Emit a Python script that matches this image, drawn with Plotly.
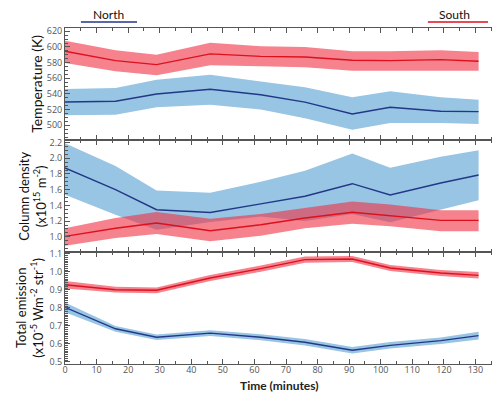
import plotly.graph_objects as go
from plotly.subplots import make_subplots

# ---- data ----
time = [0, 16, 29, 46, 62, 76, 91, 103, 119, 131]

north_temp = [529.7, 530.6, 540.0, 546.0, 539.0, 529.5, 514.4, 523.0, 518.0, 517.4]
north_temp_hi = [546.3, 547.6, 558.2, 564.6, 556.0, 548.5, 535.7, 543.4, 535.7, 532.7]
north_temp_lo = [512.8, 513.5, 523.0, 526.3, 520.0, 509.0, 494.4, 503.0, 503.0, 501.7]
south_temp = [594.5, 582.5, 577.4, 591.2, 588.0, 587.2, 583.0, 582.5, 583.8, 581.7]
south_temp_hi = [608.0, 595.7, 590.0, 605.5, 601.0, 600.0, 594.5, 594.5, 595.7, 593.6]
south_temp_lo = [579.5, 569.0, 563.8, 576.6, 575.5, 574.0, 569.7, 569.7, 570.0, 569.7]

north_dens = [1.876, 1.60, 1.345, 1.31, 1.42, 1.516, 1.676, 1.532, 1.685, 1.787]
north_dens_hi = [2.19, 1.90, 1.59, 1.56, 1.70, 1.84, 2.06, 1.88, 2.02, 2.10]
north_dens_lo = [1.536, 1.28, 1.09, 1.19, 1.26, 1.20, 1.29, 1.185, 1.345, 1.465]
south_dens = [1.006, 1.11, 1.176, 1.078, 1.154, 1.24, 1.312, 1.269, 1.21, 1.21]
south_dens_hi = [1.11, 1.24, 1.316, 1.23, 1.29, 1.367, 1.45, 1.41, 1.337, 1.337]
south_dens_lo = [0.887, 0.985, 1.036, 0.945, 1.014, 1.11, 1.167, 1.134, 1.07, 1.07]

north_emis = [0.803, 0.684, 0.637, 0.660, 0.637, 0.609, 0.565, 0.592, 0.618, 0.646]
north_emis_hi = [0.830, 0.700, 0.652, 0.676, 0.654, 0.627, 0.583, 0.610, 0.636, 0.667]
north_emis_lo = [0.776, 0.668, 0.622, 0.644, 0.620, 0.591, 0.547, 0.574, 0.600, 0.625]
south_emis = [0.929, 0.901, 0.898, 0.966, 1.018, 1.068, 1.072, 1.022, 0.994, 0.981]
south_emis_hi = [0.950, 0.917, 0.914, 0.983, 1.035, 1.085, 1.089, 1.039, 1.011, 0.999]
south_emis_lo = [0.908, 0.885, 0.882, 0.949, 1.001, 1.051, 1.055, 1.005, 0.977, 0.963]

x_ticks = list(range(0, 140, 10))

BLUE_FILL = "rgb(152,197,228)"
BLUE_LINE = "rgb(35,55,135)"
RED_FILL = "rgba(238,47,63,0.6)"
RED_LINE = "rgb(222,16,30)"
AX = "#555555"

fig = make_subplots(rows=3, cols=1, shared_xaxes=True, vertical_spacing=0)

panels = [
    (1, north_temp, north_temp_lo, north_temp_hi, south_temp, south_temp_lo, south_temp_hi),
    (2, north_dens, north_dens_lo, north_dens_hi, south_dens, south_dens_lo, south_dens_hi),
    (3, north_emis, north_emis_lo, north_emis_hi, south_emis, south_emis_lo, south_emis_hi),
]

for row, n, nlo, nhi, s, slo, shi in panels:
    fig.add_trace(go.Scatter(x=time + time[::-1], y=nhi + nlo[::-1], fill="toself",
                             fillcolor=BLUE_FILL, line=dict(width=0), mode="lines",
                             hoverinfo="skip", showlegend=False), row=row, col=1)
    fig.add_trace(go.Scatter(x=time + time[::-1], y=shi + slo[::-1], fill="toself",
                             fillcolor=RED_FILL, line=dict(width=0), mode="lines",
                             hoverinfo="skip", showlegend=False), row=row, col=1)
    fig.add_trace(go.Scatter(x=time, y=n, mode="lines", line=dict(color=BLUE_LINE, width=1.4),
                             name="North", showlegend=False), row=row, col=1)
    fig.add_trace(go.Scatter(x=time, y=s, mode="lines", line=dict(color=RED_LINE, width=1.4),
                             name="South", showlegend=False), row=row, col=1)

tickfont = dict(family="Open Sans", size=9, color="#555555")

for r in (1, 2, 3):
    fig.update_xaxes(row=r, col=1, range=[0, 140], tickvals=x_ticks, ticks="inside", ticklen=5,
                     tickcolor=AX, showline=True, linecolor=AX, linewidth=1, mirror="allticks",
                     showgrid=False, zeroline=False, tickfont=tickfont,
                     minor=dict(ticks="inside", dtick=5, ticklen=3, tickcolor=AX))

fig.update_xaxes(row=3, col=1, showticklabels=True, ticklabelstandoff=-3)

common_y = dict(ticks="inside", ticklen=5, tickcolor=AX, showline=True, linecolor=AX, linewidth=1,
                mirror="allticks", showgrid=False, zeroline=False, tickfont=tickfont)

fig.update_yaxes(row=1, col=1, range=[481.2, 624.2], tickvals=[500, 520, 540, 560, 580, 600, 620],
                 minor=dict(ticks="inside", dtick=5, ticklen=3, tickcolor=AX), **common_y)
fig.update_yaxes(row=2, col=1, range=[0.807, 2.232], tickvals=[1.0, 1.2, 1.4, 1.6, 1.8, 2.0, 2.2],
                 tickformat=".1f",
                 minor=dict(ticks="inside", dtick=0.05, ticklen=3, tickcolor=AX), **common_y)
fig.update_yaxes(row=3, col=1, range=[0.4883, 1.1106], tickvals=[0.5, 0.6, 0.7, 0.8, 0.9, 1.0, 1.1],
                 tickformat=".1f",
                 minor=dict(ticks="inside", dtick=0.01, ticklen=3, tickcolor=AX), **common_y)

title_font = dict(family="Lato", size=13, color="#111")
annotations = [
    dict(text="Temperature (K)", x=-0.066, y=0.8333, xref="paper", yref="paper",
         textangle=-90, showarrow=False, font=dict(family="Lato", size=14, color="#111"),
         xanchor="center", yanchor="middle"),
    dict(text="Column density<br>(x10<sup>15</sup> m<sup>-2</sup>)", x=-0.075, y=0.5,
         xref="paper", yref="paper", textangle=-90, showarrow=False, font=title_font,
         xanchor="center", yanchor="middle"),
    dict(text="Total emission<br>(x10<sup>-5</sup> Wm<sup>-2</sup> str<sup>-1</sup>)", x=-0.08,
         y=0.1667, xref="paper", yref="paper", textangle=-90, showarrow=False, font=title_font,
         xanchor="center", yanchor="middle"),
    dict(text="<b>Time (minutes)</b>", x=0.485, y=-0.064, xref="paper", yref="paper",
         showarrow=False, font=dict(family="Lato", size=12, color="#222"),
         xanchor="center", yanchor="middle", borderpad=0),
    dict(text="North", x=0.0995, y=1.0387, xref="paper", yref="paper", showarrow=False,
         font=dict(family="Lato", size=12, color="#111"), xanchor="center", yanchor="middle",
         borderpad=0),
    dict(text="South", x=0.882, y=1.0387, xref="paper", yref="paper", showarrow=False,
         font=dict(family="Lato", size=12, color="#111"), xanchor="center", yanchor="middle",
         borderpad=0),
]

shapes = [
    dict(type="line", xref="paper", yref="paper", x0=0.036, x1=0.163, y0=1.018, y1=1.018,
         line=dict(color=BLUE_LINE, width=1.6)),
    dict(type="line", xref="paper", yref="paper", x0=0.821, x1=0.957, y0=1.018, y1=1.018,
         line=dict(color=RED_LINE, width=1.6)),
]

fig.update_layout(width=500, height=393, margin=dict(l=57, r=1, t=20, b=37),
                  paper_bgcolor="white", plot_bgcolor="white",
                  annotations=annotations, shapes=shapes, showlegend=False)

fig.write_html("out.html")
